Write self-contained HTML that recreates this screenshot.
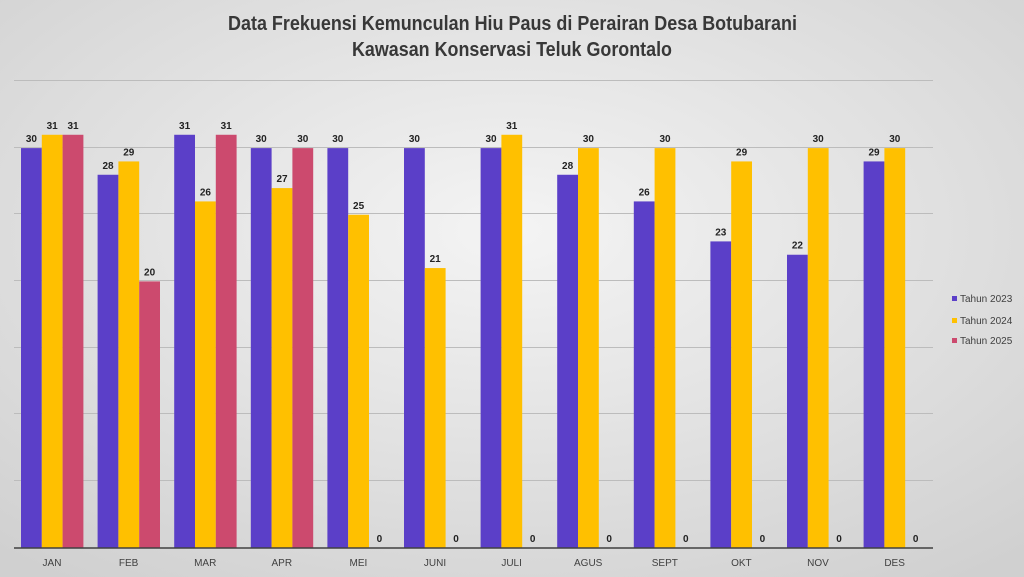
<!DOCTYPE html><html><head><style>body{margin:0}svg{display:block}</style></head><body>
<svg width="1024" height="577" xmlns="http://www.w3.org/2000/svg" font-family="Liberation Sans, sans-serif">
<defs><radialGradient id="bg" cx="50%" cy="40%" r="75%"><stop offset="0" stop-color="#f4f4f4"/><stop offset="1" stop-color="#d0d0d0"/></radialGradient></defs>
<rect width="1024" height="577" fill="url(#bg)"/>
<text x="228" y="30" textLength="569" lengthAdjust="spacingAndGlyphs" font-size="20" font-weight="bold" fill="#383838">Data Frekuensi Kemunculan Hiu Paus di Perairan Desa Botubarani</text>
<text x="352" y="56" textLength="320" lengthAdjust="spacingAndGlyphs" font-size="20" font-weight="bold" fill="#383838">Kawasan Konservasi Teluk Gorontalo</text>
<g stroke="#bcbcbc" stroke-width="1">
<line x1="14" x2="933" y1="80.5" y2="80.5"/><line x1="14" x2="933" y1="147.5" y2="147.5"/><line x1="14" x2="933" y1="213.5" y2="213.5"/><line x1="14" x2="933" y1="280.5" y2="280.5"/><line x1="14" x2="933" y1="347.5" y2="347.5"/><line x1="14" x2="933" y1="413.5" y2="413.5"/><line x1="14" x2="933" y1="480.5" y2="480.5"/>
</g>
<g id="bars"></g>
<line x1="14" x2="933" y1="548" y2="548" stroke="#404040" stroke-width="1.5"/>
<g font-size="10" fill="#404040" text-anchor="middle" id="cats"></g>
<g font-size="10" font-weight="bold" fill="#222" text-anchor="middle" id="lbl"></g>
<rect x="952" y="296" width="5" height="5" fill="#5b3fc8"/><text x="960" y="302" font-size="10" fill="#404040">Tahun 2023</text>
<rect x="952" y="318" width="5" height="5" fill="#ffc000"/><text x="960" y="324" font-size="10" fill="#404040">Tahun 2024</text>
<rect x="952" y="338" width="5" height="5" fill="#cc4a6e"/><text x="960" y="344" font-size="10" fill="#404040">Tahun 2025</text>
<script>
var d=[[30,31,31],[28,29,20],[31,26,31],[30,27,30],[30,25,0],[30,21,0],[30,31,0],[28,30,0],[26,30,0],[23,29,0],[22,30,0],[29,30,0]];
var m=["JAN","FEB","MAR","APR","MEI","JUNI","JULI","AGUS","SEPT","OKT","NOV","DES"];
var c=["#5b3fc8","#ffc000","#cc4a6e"],ns="http://www.w3.org/2000/svg";
var b=document.getElementById("bars"),l=document.getElementById("lbl"),k=document.getElementById("cats");
function el(p,t,a,tx){var e=document.createElementNS(ns,t);for(var q in a)e.setAttribute(q,a[q]);if(tx!=null)e.textContent=tx;p.appendChild(e);}
for(var i=0;i<12;i++){var x0=14+i*76.6+7;
el(k,"text",{x:14+i*76.6+38,y:566},m[i]);
for(var j=0;j<3;j++){var v=d[i][j],x=x0+j*20.8,y=548-v*13.33;
if(v>0)el(b,"rect",{x:x,y:y,width:20.8,height:548-y,fill:c[j]});
el(l,"text",{x:x+10.4,y:y-6},v);}}
</script>
</svg></body></html>
